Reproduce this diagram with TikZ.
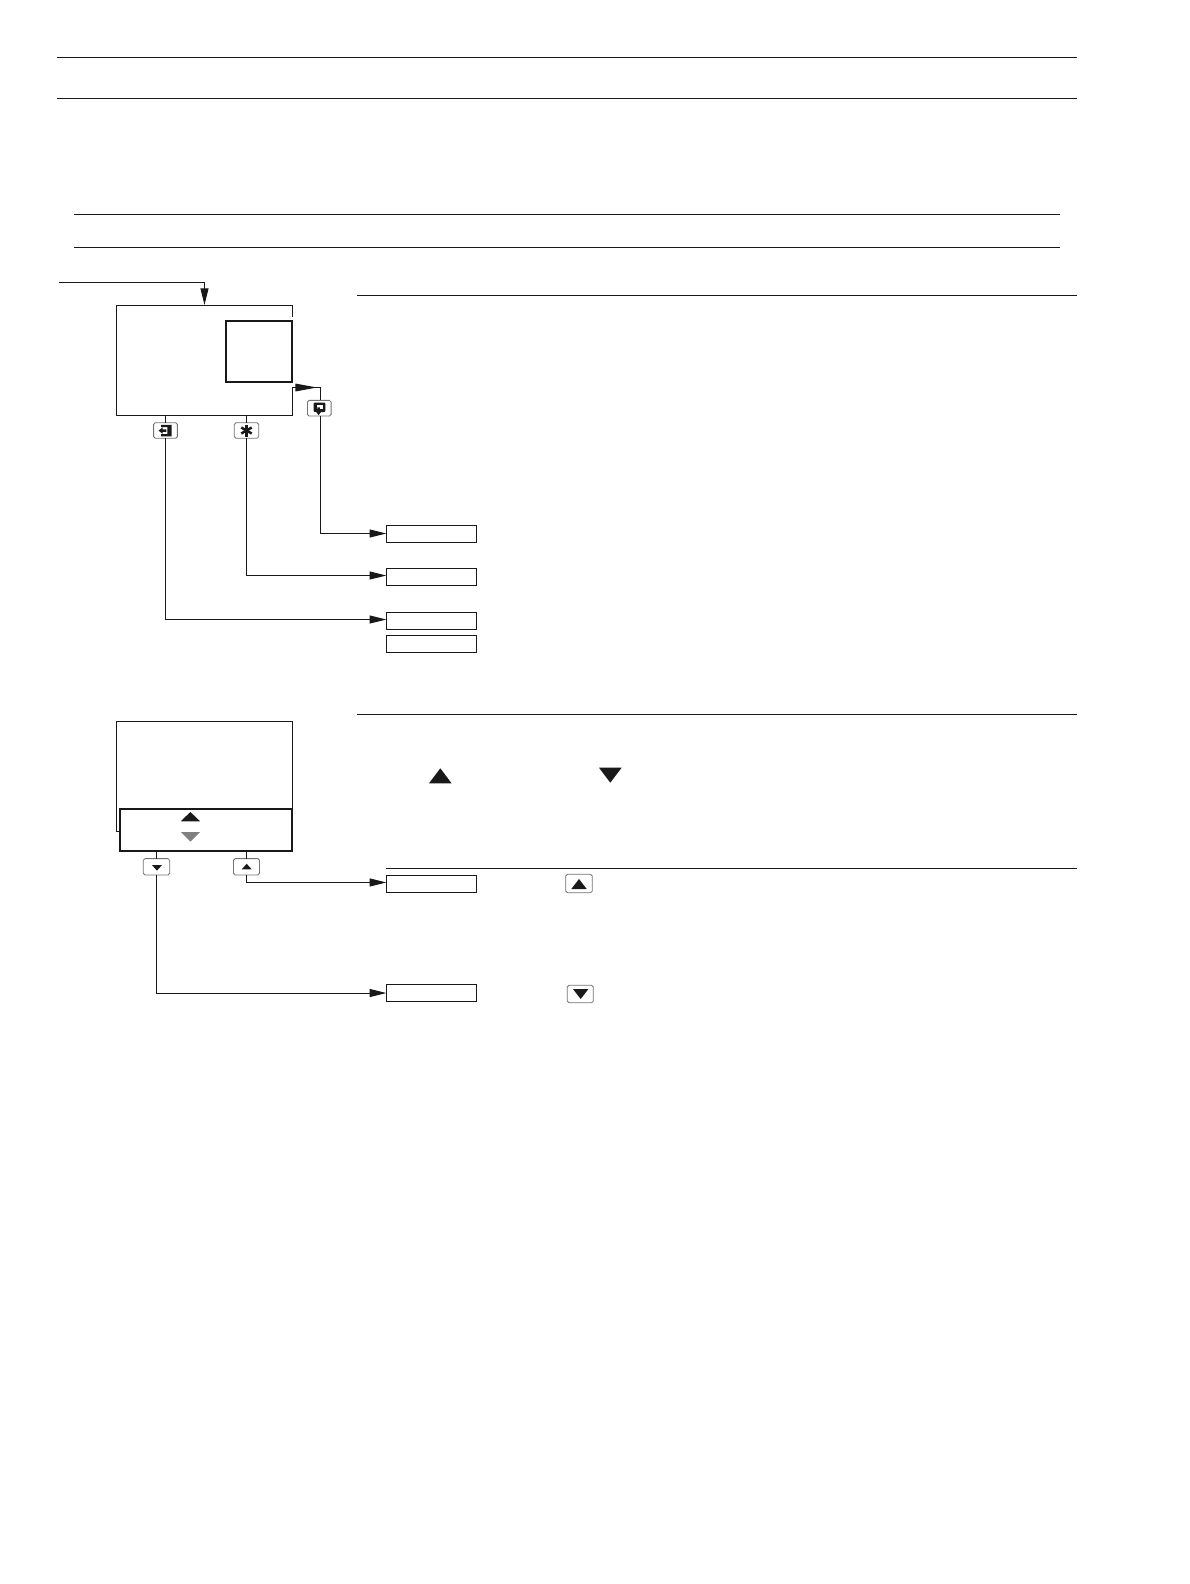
\documentclass[tikz,border=0pt]{standalone}
\usetikzlibrary{arrows.meta}
\tikzset{
  x=0.6pt,y=-0.6pt,
  rule/.style={line width=0.6pt,draw=black!90},
  conn/.style={line width=0.6pt,draw=black!90},
  tip/.style={-{Triangle[length=10pt,width=4.8pt]}},
  longtip/.style={-{Triangle[length=13pt,width=4.6pt]}},
  sized/.style 2 args={inner sep=0pt,outer sep=0pt,minimum width=#1*0.6pt,minimum height=#2*0.6pt,shape=rectangle},
  valbox/.style={sized={90.4}{17},draw=black!90,line width=0.75pt},
  panel/.style 2 args={sized={#1}{#2}},
  thickbox/.style 2 args={sized={#1}{#2},draw=black!90,line width=1.25pt},
  keybox/.style 2 args={sized={#1}{#2},draw=black!55,line width=0.5pt,rounded corners=1pt,fill=white},
  glyph/.style={fill=black!90,draw=none},
}
\begin{document}
\begin{tikzpicture}
\useasboundingbox (0,0) rectangle (1190,1584);
\fill[white] (0,0) rectangle (1190,1584);
% rules
\coordinate (r1a) at (57,57.5);   \coordinate (r1b) at (1077,57.5);
\coordinate (r2a) at (57,98.5);   \coordinate (r2b) at (1077,98.5);
\coordinate (r3a) at (74,214.5);  \coordinate (r3b) at (1060,214.5);
\coordinate (r4a) at (74,247.5);  \coordinate (r4b) at (1060,247.5);
\coordinate (r5a) at (357,295.5); \coordinate (r5b) at (1077,295.5);
\coordinate (r6a) at (357,714.5); \coordinate (r6b) at (1077,714.5);
\coordinate (r7a) at (386,868.5); \coordinate (r7b) at (1077,868.5);
\foreach \i in {1,...,7} \draw[rule] (r\i a) -- (r\i b);
% upper panel
\node[panel={175.6}{110}] (p1) at (204.5,360.3) {};
\draw[conn] (292.3,316.7) -- (p1.north east) -- (p1.north west) -- (p1.south west) -- (p1.south east) -- (292.3,386.7);
\node[thickbox={66.6}{61}] (w1) at (259,351.5) {};
% lower panel
\node[panel={175.6}{109.6}] (p2) at (204.5,776.5) {};
\draw[conn] (120,831.3) -- (p2.south west) -- (p2.north west) -- (p2.north east) -- (292.3,809);
\node[thickbox={172.3}{42}] (w2) at (206.15,830) {};
% keys upper
\node[keybox={23.7}{15.6}] (kenter) at (165.5,430.5) {};
\node[keybox={24.4}{15.6}] (kstar) at (246.5,430.5) {};
\node[keybox={23.7}{15.7}] (kpage) at (319.3,408.2) {};
% keys lower
\node[keybox={26.4}{16.3}] (kdown) at (156.5,866.8) {};
\node[keybox={26}{16.3}] (kup) at (246.5,866.8) {};
% value boxes
\node[valbox] (b1) at (431.5,534) {};
\node[valbox] (b2) at (431.5,577) {};
\node[valbox] (b3) at (431.5,621) {};
\node[valbox] (b4) at (431.5,643.8) {};
\node[valbox] (b5) at (431.5,883.8) {};
\node[valbox] (b6) at (431.5,993) {};
% text keys
\node[keybox={26.6}{18.4}] (tup) at (579,883.5) {};
\node[keybox={26}{17.4}] (tdown) at (580.3,994) {};
% connectors
\coordinate (inStart) at (59,282.5);
\coordinate (inCorner) at (204.5,282.5);
\coordinate (inEnd) at (204.5,305);
\draw[conn,tip] (inStart) -- (inCorner) -- (inEnd);
\coordinate (pgStart) at (292.3,387.5);
\coordinate (pgTip) at (317,387.5);
\coordinate (pgCorner) at (320.5,387.5);
\draw[conn] (pgStart) -- (pgCorner) -- (kpage.north -| pgCorner);
\draw[conn,longtip] (pgStart) -- (pgTip);
\draw[conn,tip] (kpage.south -| pgCorner) |- ([yshift=0.3pt]b1.west);
\draw[conn] (p1.south -| kenter) -- (kenter.north);
\draw[conn] (p1.south -| kstar) -- (kstar.north);
\draw[conn,tip] (kstar.south) |- ([yshift=0.9pt]b2.west);
\draw[conn,tip] (kenter.south) |- ([yshift=0.9pt]b3.west);
\draw[conn] (w2.south -| kdown) -- (kdown.north);
\draw[conn] (w2.south -| kup) -- (kup.north);
\draw[conn,tip] (kup.south) |- ([yshift=0.8pt]b5.west);
\draw[conn,tip] (kdown.south) |- (b6.west);
% triangles in lower window
\fill[black!90] (190.4,812) -- (200.1,821.3) -- (180.7,821.3) -- cycle;
\fill[black!50] (190.5,841.7) -- (200.2,832) -- (180.8,832) -- cycle;
% triangles in text
\fill[black!90] (440.3,768.3) -- (451.6,783.3) -- (429,783.3) -- cycle;
\fill[black!90] (610.3,782.7) -- (621.6,767.7) -- (599,767.7) -- cycle;
% triangles on keys
\fill[black!90] (246.7,863.8) -- (251.7,869.3) -- (241.7,869.3) -- cycle;
\fill[black!90] (157,870.6) -- (162,865) -- (152,865) -- cycle;
\fill[black!90] (579,879) -- (586.7,889) -- (571.3,889) -- cycle;
\fill[black!90] (580.7,999) -- (588.4,989) -- (573,989) -- cycle;
% enter glyph: bracket with an arrow pointing left into it
\fill[glyph] (161,424.8) -- (171.6,424.8) -- (171.6,436.4) -- (161,436.4) -- (161,434.2) -- (167.4,434.2) -- (167.4,427) -- (161,427) -- cycle;
\fill[glyph] (158.6,430.6) -- (162.6,427.4) -- (162.6,429.4) -- (166.4,429.4) -- (166.4,431.8) -- (162.6,431.8) -- (162.6,433.8) -- cycle;
% star glyph
\draw[line width=1.5pt,black!90] (246.5,424.5) -- (246.5,436.5);
\draw[line width=1.5pt,black!90] (241.3,427.5) -- (251.7,433.5);
\draw[line width=1.5pt,black!90] (241.3,433.5) -- (251.7,427.5);
% page glyph: box with an arrow pointing down out of it
\fill[glyph,rounded corners=0.6pt] (313.6,402.6) rectangle (325.4,412);
\fill[white] (316.6,405.4) rectangle (322.6,408.6);
\fill[white] (315.4,412) rectangle (321,415);
\fill[glyph] (318.6,415.2) -- (315.2,410.6) -- (317.4,410.6) -- (317.4,407.4) -- (319.8,407.4) -- (319.8,410.6) -- (322,410.6) -- cycle;
\end{tikzpicture}
\end{document}
